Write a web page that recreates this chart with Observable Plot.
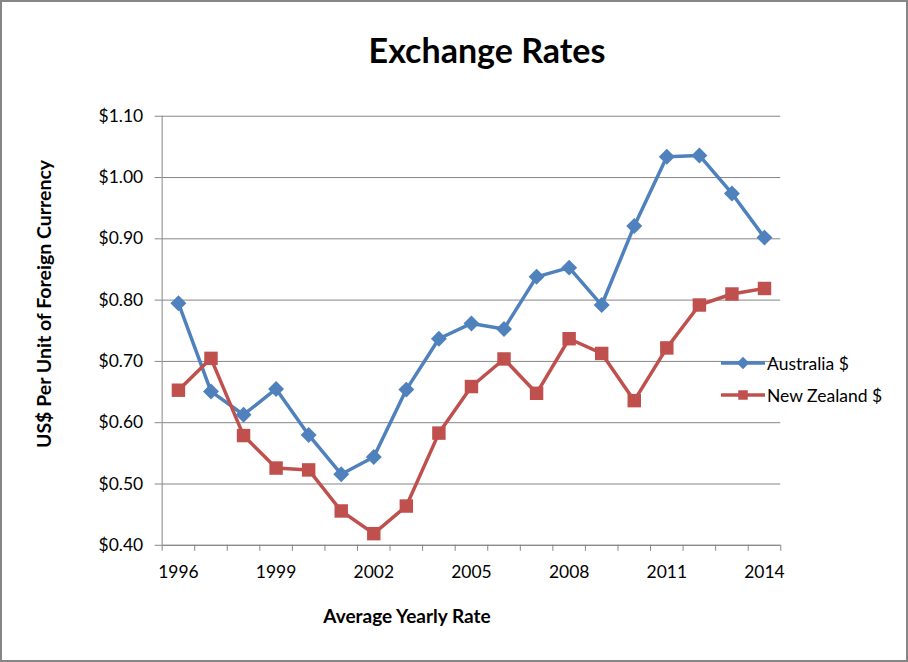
<!DOCTYPE html>
<html>
<head>
<meta charset="utf-8">
<script src="https://cdn.jsdelivr.net/npm/d3@7"></script>
<script src="https://cdn.jsdelivr.net/npm/@observablehq/plot@0.6"></script>
<style>
  html, body { margin: 0; padding: 0; background: #fff; }
  #wrap { position: relative; width: 908px; height: 662px; box-sizing: border-box; border: 2px solid #868686; overflow: hidden; font-family: Lato, "Open Sans", sans-serif; color: #000; }
  #chart { position: absolute; left: -2px; top: -2px; }
  .title { position: absolute; left: 485px; top: 31px; transform: translateX(-50%); font-size: 34px; font-weight: bold; line-height: 1; white-space: nowrap; }
  .xtitle { position: absolute; left: 405px; top: 604px; transform: translateX(-50%); font-size: 19px; font-weight: bold; line-height: 1; white-space: nowrap; }
  .ytitle { position: absolute; left: 42px; top: 302px; transform: translate(-50%, -50%) rotate(-90deg); font-size: 19.5px; font-weight: bold; line-height: 1; white-space: nowrap; }
  .legend { position: absolute; left: 717px; top: 349px; font-size: 17.5px; }
  .legend .row { display: flex; align-items: center; height: 24px; margin-bottom: 8px; white-space: nowrap; }
  .legend svg { display: block; margin-right: 2px; }
</style>
</head>
<body>
<div id="wrap">
  <div id="chart"></div>
  <div class="title">Exchange Rates</div>
  <div class="xtitle">Average Yearly Rate</div>
  <div class="ytitle">US$ Per Unit of Foreign Currency</div>
  <div class="legend" id="legend"></div>
</div>
<script>
const years = [1996, 1997, 1998, 1999, 2000, 2001, 2002, 2003, 2004, 2005, 2006, 2007, 2008, 2009, 2010, 2011, 2012, 2013, 2014];
const australia = [0.795, 0.651, 0.613, 0.655, 0.580, 0.516, 0.544, 0.654, 0.737, 0.762, 0.753, 0.838, 0.853, 0.792, 0.921, 1.034, 1.036, 0.974, 0.902];
const newZealand = [0.653, 0.705, 0.579, 0.526, 0.523, 0.456, 0.419, 0.464, 0.583, 0.659, 0.704, 0.648, 0.737, 0.713, 0.636, 0.722, 0.792, 0.810, 0.819];
const seriesNames = ["Australia $", "New Zealand $"];
const seriesColors = ["#4F81BD", "#C0504D"];
const seriesSymbols = ["diamond2", "square"];
const yTicks = [0.40, 0.50, 0.60, 0.70, 0.80, 0.90, 1.00, 1.10];
const xLabelYears = [1996, 1999, 2002, 2005, 2008, 2011, 2014];

const rows = [];
years.forEach((yr, i) => {
  rows.push({year: yr, value: australia[i], series: seriesNames[0]});
  rows.push({year: yr, value: newZealand[i], series: seriesNames[1]});
});
const xDomain = [years[0] - 0.5, years[years.length - 1] + 0.5];
const boundaries = years.map(y => y - 0.5).concat([years[years.length - 1] + 0.5]);
const gray = "#868686";

const chart = Plot.plot({
  width: 908,
  height: 662,
  marginLeft: 162,
  marginRight: 126,
  marginTop: 116,
  marginBottom: 116,
  style: {fontFamily: "Lato, 'Open Sans', sans-serif", fontSize: "17.5px", color: "#000", background: "transparent"},
  x: {type: "linear", domain: xDomain},
  y: {domain: [0.4, 1.1]},
  color: {domain: seriesNames, range: seriesColors},
  symbol: {domain: seriesNames, range: seriesSymbols},
  marks: [
    Plot.gridY(yTicks, {stroke: gray, strokeOpacity: 1, strokeWidth: 1}),
    Plot.axisY(yTicks, {tickFormat: d => "$" + d.toFixed(2), tickSize: 7, tickPadding: 12, stroke: gray, fill: "#000", label: null}),
    Plot.axisX(boundaries, {tickFormat: () => "", tickSize: 6, stroke: gray, label: null}),
    Plot.axisX(xLabelYears, {tickFormat: d => String(d), tickSize: 0, tickPadding: 20, fill: "#000", label: null}),
    Plot.ruleX([xDomain[0]], {stroke: gray}),
    Plot.ruleY([0.4], {stroke: gray}),
    Plot.line(rows, {x: "year", y: "value", z: "series", stroke: "series", strokeWidth: 3.5}),
    Plot.dot(rows.filter(d => d.series === seriesNames[0]), {x: "year", y: "value", symbol: "series", fill: "series", r: 7.2}),
    Plot.dot(rows.filter(d => d.series === seriesNames[1]), {x: "year", y: "value", symbol: "series", fill: "series", r: 7.6})
  ]
});
document.getElementById("chart").appendChild(chart);

// legend
const legend = document.getElementById("legend");
const symGen = [d3.symbol(d3.symbolDiamond2, 100), d3.symbol(d3.symbolSquare, 90)];
seriesNames.forEach((name, i) => {
  const row = document.createElement("div");
  row.className = "row";
  const svg = d3.create("svg").attr("width", 46).attr("height", 20);
  svg.append("line").attr("x1", 2).attr("x2", 46).attr("y1", 10).attr("y2", 10)
    .attr("stroke", seriesColors[i]).attr("stroke-width", 3.5);
  svg.append("path").attr("d", symGen[i]()).attr("transform", "translate(24,10)").attr("fill", seriesColors[i]);
  row.appendChild(svg.node());
  const span = document.createElement("span");
  span.textContent = name;
  row.appendChild(span);
  legend.appendChild(row);
});
</script>
</body>
</html>
